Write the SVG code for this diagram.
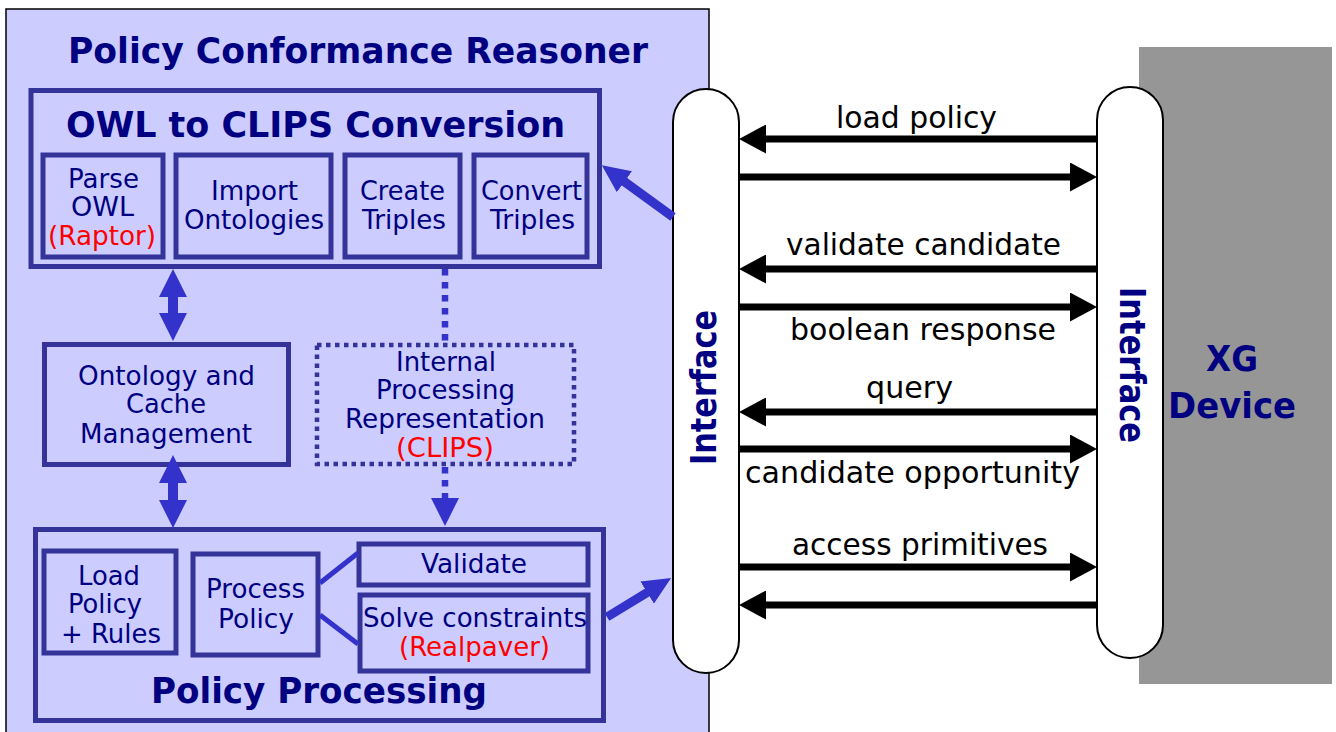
<svg xmlns="http://www.w3.org/2000/svg" width="1336" height="732" viewBox="0 0 1336 732">
<defs>
<style>
.bx{fill:none;stroke:#333399;stroke-width:5}
.dot{fill:none;stroke:#333399;stroke-width:4.5;stroke-dasharray:4.5 4.5}
.t{font-family:"DejaVu Sans","Liberation Sans",sans-serif;fill:#000080;font-size:27px;text-anchor:middle}
.r{fill:#ff0000}
.h{font-weight:bold;font-size:35px}
.lbl{font-family:"DejaVu Sans","Liberation Sans",sans-serif;fill:#000;font-size:29.5px;text-anchor:middle}
.pill{fill:#fff;stroke:#000;stroke-width:2}
.ba{stroke:#000;stroke-width:7;fill:none;marker-end:url(#blk)}
.bl{stroke:#3333cc;stroke-width:9;fill:none}
</style>
<marker id="blk" markerUnits="userSpaceOnUse" markerWidth="27" markerHeight="29" refX="7" refY="14.5" orient="auto"><path d="M0,0 L27,14.5 L0,29 Z" fill="#000"/></marker>
<marker id="blu" markerUnits="userSpaceOnUse" markerWidth="28" markerHeight="28" refX="7" refY="14" orient="auto-start-reverse"><path d="M0,0 L28,14 L0,28 Z" fill="#3333cc"/></marker>
<marker id="blu2" markerUnits="userSpaceOnUse" markerWidth="28" markerHeight="26" refX="8" refY="13" orient="auto"><path d="M0,0 L28,13 L0,26 Z" fill="#3333cc"/></marker>
</defs>

<g id="reasoner-panel">
<rect x="6" y="9" width="703" height="740" fill="#ccccff" stroke="#000" stroke-width="1.5"/>
<text class="t h" x="358" y="63" textLength="580" lengthAdjust="spacingAndGlyphs">Policy Conformance Reasoner</text>
</g>

<g id="xg-device">
<rect x="1139" y="47" width="193" height="637" fill="#969696"/>
<text class="t h" font-size="36" x="1232" y="371" textLength="52" lengthAdjust="spacingAndGlyphs">XG</text>
<text class="t h" font-size="36" x="1232" y="418" textLength="128" lengthAdjust="spacingAndGlyphs">Device</text>
</g>

<g id="interface-left">
<rect class="pill" x="673" y="89" width="66" height="584" rx="33" ry="33"/>
<text class="t h" font-size="33" transform="translate(716,387.5) rotate(-90)" textLength="155" lengthAdjust="spacingAndGlyphs">Interface</text>
</g>

<g id="interface-right">
<rect class="pill" x="1097" y="87" width="66" height="571" rx="33" ry="33"/>
<text class="t h" font-size="33" transform="translate(1120,365) rotate(90)" textLength="156" lengthAdjust="spacingAndGlyphs">Interface</text>
</g>

<g id="owl-to-clips">
<rect class="bx" x="31" y="90.5" width="568.5" height="176"/>
<text class="t h" x="315.5" y="137" textLength="499" lengthAdjust="spacingAndGlyphs">OWL to CLIPS Conversion</text>
</g>

<g id="parse-owl">
<rect class="bx" stroke-width="4" x="43" y="155" width="120" height="102"/>
<text class="t" x="103.5" y="188" textLength="71" lengthAdjust="spacingAndGlyphs">Parse</text>
<text class="t" x="102.5" y="216" textLength="63" lengthAdjust="spacingAndGlyphs">OWL</text>
<text class="t r" x="102" y="245" textLength="108" lengthAdjust="spacingAndGlyphs">(Raptor)</text>
</g>

<g id="import-ontologies">
<rect class="bx" stroke-width="4" x="176" y="155" width="155" height="102"/>
<text class="t" x="254.5" y="200" textLength="87" lengthAdjust="spacingAndGlyphs">Import</text>
<text class="t" x="254" y="229" textLength="140" lengthAdjust="spacingAndGlyphs">Ontologies</text>
</g>

<g id="create-triples">
<rect class="bx" stroke-width="4" x="345" y="155" width="115" height="102"/>
<text class="t" x="402.5" y="200" textLength="85" lengthAdjust="spacingAndGlyphs">Create</text>
<text class="t" x="404" y="229" textLength="84" lengthAdjust="spacingAndGlyphs">Triples</text>
</g>

<g id="convert-triples">
<rect class="bx" stroke-width="4" x="474" y="155" width="113" height="102"/>
<text class="t" x="531.5" y="200" textLength="101" lengthAdjust="spacingAndGlyphs">Convert</text>
<text class="t" x="532.5" y="229" textLength="85" lengthAdjust="spacingAndGlyphs">Triples</text>
</g>

<g id="ontology-cache">
<rect class="bx" x="44.5" y="344.5" width="244" height="120"/>
<text class="t" x="166.5" y="385" textLength="177" lengthAdjust="spacingAndGlyphs">Ontology and</text>
<text class="t" x="166" y="413" textLength="80" lengthAdjust="spacingAndGlyphs">Cache</text>
<text class="t" x="166" y="443" textLength="172" lengthAdjust="spacingAndGlyphs">Management</text>
</g>

<g id="internal-representation">
<rect class="dot" x="317" y="345" width="257" height="119"/>
<text class="t" x="446" y="371" textLength="100" lengthAdjust="spacingAndGlyphs">Internal</text>
<text class="t" x="445.5" y="399" textLength="139" lengthAdjust="spacingAndGlyphs">Processing</text>
<text class="t" x="445" y="428" textLength="200" lengthAdjust="spacingAndGlyphs">Representation</text>
<text class="t r" x="445" y="457" textLength="98" lengthAdjust="spacingAndGlyphs">(CLIPS)</text>
</g>

<g id="policy-processing">
<rect class="bx" x="35.5" y="529.5" width="568" height="191"/>
<text class="t h" font-size="36" x="319" y="703" textLength="336" lengthAdjust="spacingAndGlyphs">Policy Processing</text>
</g>

<g id="load-policy-rules">
<rect class="bx" stroke-width="4" x="44" y="551" width="132" height="102"/>
<text class="t" x="109" y="585" textLength="62" lengthAdjust="spacingAndGlyphs">Load</text>
<text class="t" x="105" y="613" textLength="74" lengthAdjust="spacingAndGlyphs">Policy</text>
<text class="t" x="111" y="643" textLength="100" lengthAdjust="spacingAndGlyphs">+ Rules</text>
</g>

<g id="process-policy">
<rect class="bx" stroke-width="4" x="193" y="554" width="125" height="101"/>
<text class="t" x="255.5" y="598" textLength="99" lengthAdjust="spacingAndGlyphs">Process</text>
<text class="t" x="256" y="628" textLength="76" lengthAdjust="spacingAndGlyphs">Policy</text>
</g>

<g id="validate">
<rect class="bx" stroke-width="4" x="359" y="544" width="229" height="41"/>
<text class="t" x="474" y="573" textLength="106" lengthAdjust="spacingAndGlyphs">Validate</text>
</g>

<g id="solve-constraints">
<rect class="bx" stroke-width="4" x="360" y="595" width="228" height="76"/>
<text class="t" x="475" y="627" textLength="224" lengthAdjust="spacingAndGlyphs">Solve constraints</text>
<text class="t r" x="474.5" y="656" textLength="151" lengthAdjust="spacingAndGlyphs">(Realpaver)</text>
</g>

<g id="connectors">
<line x1="173" y1="290" x2="173" y2="320" stroke="#3333cc" stroke-width="10" marker-start="url(#blu)" marker-end="url(#blu)"/>
<line x1="173" y1="476" x2="173" y2="507" stroke="#3333cc" stroke-width="10" marker-start="url(#blu)" marker-end="url(#blu)"/>
<line x1="445" y1="269" x2="445" y2="343" stroke="#3333cc" stroke-width="6.5" stroke-dasharray="6.5 6.5"/>
<line x1="445" y1="467" x2="445" y2="498" stroke="#3333cc" stroke-width="6.5" stroke-dasharray="6.5 6.5"/>
<path d="M445,526 L431,498 L459,498 Z" fill="#3333cc"/>
<line x1="320" y1="583" x2="358" y2="553" stroke="#3333cc" stroke-width="5"/>
<line x1="320" y1="615" x2="358" y2="644" stroke="#3333cc" stroke-width="5"/>
<line class="bl" x1="673" y1="217" x2="618" y2="177" marker-end="url(#blu2)"/>
<line class="bl" x1="607" y1="617" x2="654" y2="588.4" marker-end="url(#blu2)"/>

<line class="ba" x1="1097" y1="139" x2="759" y2="139"/>
<line class="ba" x1="739" y1="177" x2="1077" y2="177"/>
<line class="ba" x1="1097" y1="269" x2="759" y2="269"/>
<line class="ba" x1="739" y1="307" x2="1077" y2="307"/>
<line class="ba" x1="1097" y1="412" x2="759" y2="412"/>
<line class="ba" x1="739" y1="449" x2="1077" y2="449"/>
<line class="ba" x1="739" y1="567" x2="1077" y2="567"/>
<line class="ba" x1="1097" y1="605" x2="759" y2="605"/>

<text class="lbl" x="916.5" y="128" textLength="161" lengthAdjust="spacingAndGlyphs">load policy</text>
<text class="lbl" x="923.5" y="255" textLength="275" lengthAdjust="spacingAndGlyphs">validate candidate</text>
<text class="lbl" x="923" y="340" textLength="266" lengthAdjust="spacingAndGlyphs">boolean response</text>
<text class="lbl" x="909.5" y="398" textLength="87" lengthAdjust="spacingAndGlyphs">query</text>
<text class="lbl" x="912.5" y="483" textLength="335" lengthAdjust="spacingAndGlyphs">candidate opportunity</text>
<text class="lbl" x="920" y="555" textLength="256" lengthAdjust="spacingAndGlyphs">access primitives</text>
</g>
</svg>
